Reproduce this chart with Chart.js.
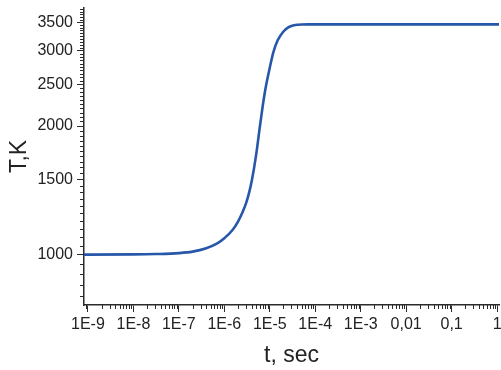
<!DOCTYPE html>
<html>
<head>
<meta charset="utf-8">
<script src="https://cdn.jsdelivr.net/npm/chart.js@4.4.0/dist/chart.umd.min.js"></script>
<style>
  html, body { margin: 0; padding: 0; background: #fff; }
  #wrap { width: 501px; height: 370px; position: relative; }
</style>
</head>
<body>
<div id="wrap"><canvas id="tempChart"></canvas></div>
<script>
// time (s) and temperature (K)
const timeSec = [8.2e-10, 1e-9, 1e-8, 3e-8, 1e-7, 2e-7, 4e-7, 7e-7, 1e-6, 1.5e-6, 2e-6, 2.5e-6, 3e-6, 3.5e-6,
                 4e-6, 5e-6, 6e-6, 7e-6, 8e-6, 1e-5, 1.2e-5, 1.5e-5, 2e-5, 2.5e-5, 3e-5, 4e-5, 5e-5,
                 7e-5, 1e-4, 1e-3, 1e-2, 0.1, 1.1];
const tempK = [1000, 1000, 1001, 1003, 1008, 1016, 1035, 1062, 1092, 1140, 1195, 1255, 1318, 1395,
               1485, 1710, 1980, 2230, 2440, 2740, 2980, 3180, 3330, 3400, 3430, 3452, 3458,
               3460, 3460, 3460, 3460, 3460, 3460];

const xMajorTicks = [1e-9, 1e-8, 1e-7, 1e-6, 1e-5, 1e-4, 1e-3, 1e-2, 1e-1, 1];
const xTickLabels = ['1E-9', '1E-8', '1E-7', '1E-6', '1E-5', '1E-4', '1E-3', '0,01', '0,1', '1'];
const yMajorTicks = [1000, 1500, 2000, 2500, 3000, 3500];

const axisColor = '#2b2b2b';
const fontFamily = "'Liberation Sans', Arial, sans-serif";

// short minor tick marks, drawn through the scales
const minorTicks = {
    id: 'minorTicks',
    afterDraw(chart) {
        const ctx = chart.ctx;
        const xs = chart.scales.x, ys = chart.scales.y;
        ctx.save();
        ctx.strokeStyle = axisColor;
        ctx.lineWidth = 1;
        ctx.beginPath();
        for (let d = -10; d <= 0; d++) {
            for (let m = 2; m <= 9; m++) {
                const v = m * Math.pow(10, d);
                if (v < xs.min || v > xs.max) continue;
                const px = Math.round(xs.getPixelForValue(v)) + 0.5;
                ctx.moveTo(px, xs.top);
                ctx.lineTo(px, xs.top + 4);
            }
        }
        for (let v = 750; v <= ys.max; v += 50) {
            if (v < ys.min || yMajorTicks.includes(v)) continue;
            const py = Math.round(ys.getPixelForValue(v)) + 0.5;
            ctx.moveTo(ys.right, py);
            ctx.lineTo(ys.right - 4, py);
        }
        ctx.stroke();
        ctx.restore();
    }
};

new Chart(document.getElementById('tempChart'), {
    type: 'scatter',
    data: {
        datasets: [{
            data: timeSec.map((t, i) => ({ x: t, y: tempK[i] })),
            showLine: true,
            borderColor: '#2757a8',
            borderWidth: 2.6,
            pointRadius: 0,
            cubicInterpolationMode: 'monotone',
            fill: false
        }]
    },
    options: {
        responsive: true,
        maintainAspectRatio: false,
        animation: false,
        layout: { padding: { top: 8, right: 2, left: 0, bottom: 0 } },
        plugins: { legend: { display: false }, tooltip: { enabled: false } },
        scales: {
            x: {
                type: 'logarithmic',
                min: 8.2e-10,
                max: 1.1,
                afterBuildTicks: scale => { scale.ticks = xMajorTicks.map(v => ({ value: v })); },
                afterFit: scale => {
                    scale.height = 65;
                    scale.paddingLeft = 0;
                    scale.paddingRight = 0;
                },
                ticks: {
                    autoSkip: false,
                    maxRotation: 0,
                    padding: 3,
                    color: '#222',
                    font: { family: fontFamily, size: 16 },
                    callback: (v, i) => xTickLabels[i]
                },
                grid: { drawOnChartArea: false, tickLength: 7, color: axisColor, tickWidth: 1 },
                border: { display: true, color: axisColor, width: 1.5 },
                title: {
                    display: true,
                    text: 't, sec',
                    color: '#222',
                    font: { family: fontFamily, size: 23 },
                    padding: { top: 0, bottom: 1 }
                }
            },
            y: {
                type: 'logarithmic',
                min: 762,
                max: 3780,
                afterBuildTicks: scale => { scale.ticks = yMajorTicks.map(v => ({ value: v })); },
                afterFit: scale => {
                    scale.width = 84;
                    scale.paddingTop = 0;
                    scale.paddingBottom = 0;
                },
                ticks: {
                    autoSkip: false,
                    padding: 4,
                    color: '#222',
                    font: { family: fontFamily, size: 16 },
                    callback: v => String(v)
                },
                grid: { drawOnChartArea: false, tickLength: 7, color: axisColor, tickWidth: 1 },
                border: { display: true, color: axisColor, width: 1.5 },
                title: {
                    display: true,
                    text: 'T,K',
                    color: '#222',
                    font: { family: fontFamily, size: 23 },
                    padding: { top: 6, bottom: 0 }
                }
            }
        }
    },
    plugins: [minorTicks]
});
</script>
</body>
</html>
